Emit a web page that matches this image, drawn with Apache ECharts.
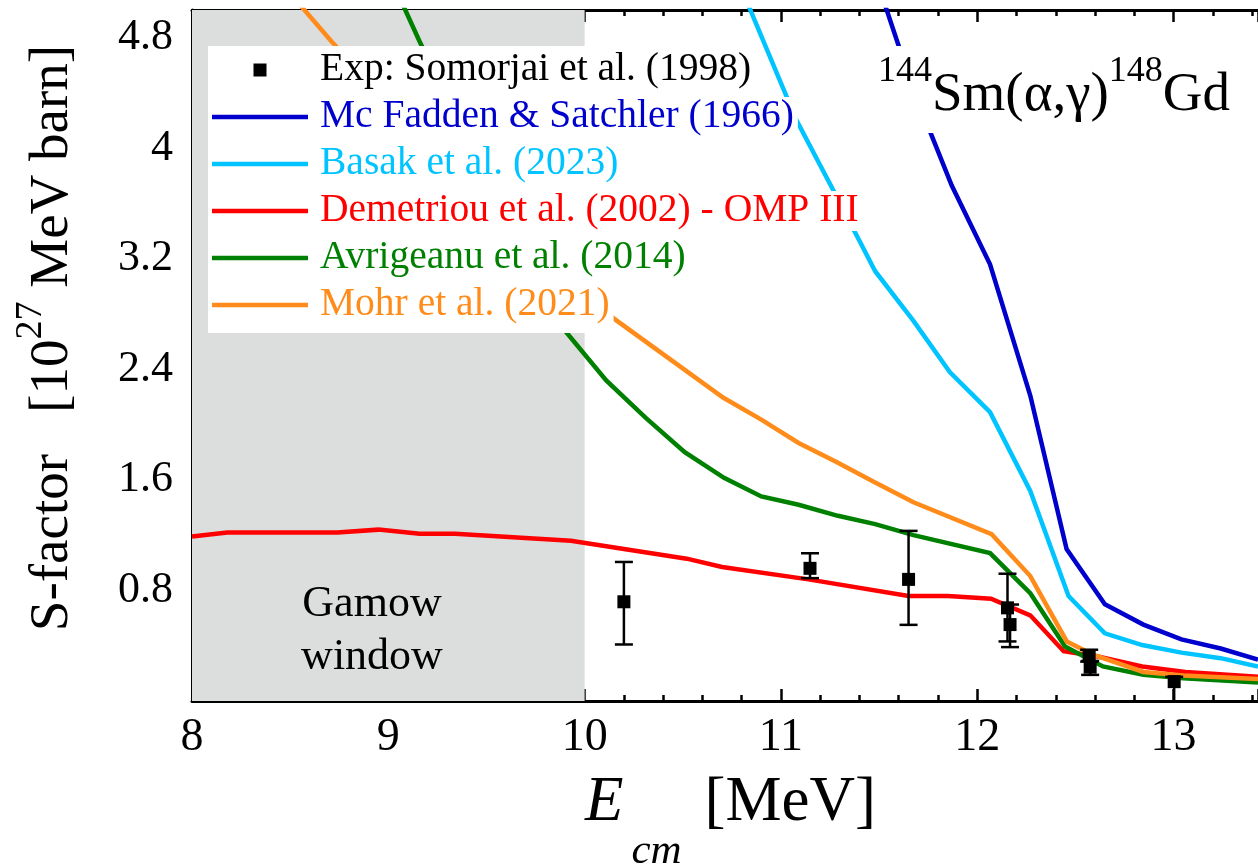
<!DOCTYPE html>
<html>
<head>
<meta charset="utf-8">
<script src="https://cdn.jsdelivr.net/npm/echarts@6/dist/echarts.min.js"></script>
<style>
  html, body { margin: 0; padding: 0; background: #fff; }
  #chart { width: 1258px; height: 864px; }
</style>
</head>
<body>
<div id="chart"></div>
<script>
// Experimental S-factors (Somorjai et al. 1998): energy, value, error-bar limits
const expE  = [10.20, 11.148, 11.65, 12.154, 12.167, 12.57, 12.575, 13.003];
const expS  = [0.718, 0.960, 0.880, 0.674, 0.553, 0.327, 0.245, 0.140];
const expLo = [0.409, 0.889, 0.551, 0.431, 0.390, 0.285, 0.189, -0.030];
const expHi = [1.006, 1.069, 1.231, 0.921, 0.698, 0.371, 0.290, 0.175];

// Model calculations, [E_cm (MeV), S (1e27 MeV barn)]
const mcFadden = [[11.48, 5.25], [11.675, 4.42], [11.87, 3.73], [12.065, 3.16], [12.27, 2.21],
  [12.455, 1.10], [12.65, 0.70], [12.846, 0.553], [13.04, 0.446], [13.24, 0.38], [13.43, 0.30]];
const basak = [[10.80, 5.15], [11.08, 4.20], [11.28, 3.66], [11.48, 3.11], [11.675, 2.75],
  [11.86, 2.38], [12.065, 2.09], [12.27, 1.52], [12.465, 0.76], [12.65, 0.49], [12.84, 0.405],
  [13.04, 0.35], [13.24, 0.31], [13.43, 0.25]];
const demetriou = [[8.0, 1.19], [8.18, 1.22], [8.74, 1.22], [8.95, 1.24], [9.16, 1.21], [9.34, 1.21],
  [9.93, 1.16], [10.52, 1.03], [10.70, 0.97], [11.14, 0.88], [11.65, 0.76], [11.85, 0.76],
  [12.07, 0.74], [12.27, 0.62], [12.44, 0.36], [12.62, 0.32], [12.84, 0.25], [13.06, 0.21], [13.43, 0.175]];
const avrigeanu = [[9.0, 5.27], [9.16, 4.77], [9.3, 4.36], [9.5, 3.80], [9.7, 3.20], [9.9, 2.68],
  [10.11, 2.32], [10.31, 2.05], [10.51, 1.80], [10.71, 1.615], [10.90, 1.48], [11.09, 1.42],
  [11.29, 1.34], [11.48, 1.28], [11.675, 1.20], [12.065, 1.07], [12.27, 0.78], [12.447, 0.395],
  [12.64, 0.25], [12.846, 0.19], [13.05, 0.165], [13.43, 0.133]];
const mohr = [[8.5, 5.12], [8.712, 4.77], [9.0, 4.33], [9.3, 3.90], [9.6, 3.50], [9.9, 3.10],
  [10.146, 2.77], [10.707, 2.194], [10.90, 2.036], [11.09, 1.867], [11.283, 1.729], [11.47, 1.588],
  [11.675, 1.438], [12.073, 1.207], [12.27, 0.904], [12.456, 0.431], [12.59, 0.335],
  [12.846, 0.21], [13.05, 0.185], [13.43, 0.16]];

// Gamow window energy range (MeV)
const gamowRange = [8, 10];

// Axis ranges and tick steps
const xRange = [8, 13.43];
const yRange = [0, 5];
const xStep = 1;
const yStep = 0.8;

const SERIF = '"Liberation Serif", "Times New Roman", serif';
const C = {
  blue: '#0000cd', cyan: '#00c4ff', red: '#ff0000', green: '#008000', orange: '#ff8c1a'
};

// legend icons: a thick line sample and a filled square
const ICON_LINE = 'path://M0,0H96V4.5H0Z';
const ICON_SQUARE = 'path://M0,0H13V13H0Z';

const chart = echarts.init(document.getElementById('chart'), null, { renderer: 'canvas' });

const axisLineStyle = { show: true, onZero: false, lineStyle: { color: '#000', width: 3 } };
const majorTick = { show: true, inside: true, length: 12, lineStyle: { color: '#000', width: 2.5 } };
const minorTickOf = n => ({ show: true, splitNumber: n, length: 6, lineStyle: { color: '#000', width: 2.5 } });

function lineSeries(name, data, color) {
  return {
    name, type: 'line', data, xAxisIndex: 0, yAxisIndex: 0,
    symbol: 'none', showSymbol: false, clip: true, z: 2,
    lineStyle: { color, width: 4.5, cap: 'butt', join: 'miter' },
    itemStyle: { color }
  };
}

const option = {
  animation: false,
  backgroundColor: '#fff',
  grid: { left: 192, right: 0, top: 10, bottom: 163, containLabel: false, outerBoundsMode: 'none' },
  xAxis: [
    {
      type: 'value', position: 'bottom', min: xRange[0], max: xRange[1], interval: xStep,
      axisLine: axisLineStyle, axisTick: majorTick, minorTick: minorTickOf(5),
      splitLine: { show: false },
      axisLabel: {
        show: true, margin: 14, color: '#000', fontSize: 46, fontFamily: SERIF,
        showMinLabel: true, showMaxLabel: true, hideOverlap: false,
        formatter: v => (Math.abs(v - Math.round(v)) < 1e-6 ? String(Math.round(v)) : '')
      }
    },
    {
      type: 'value', position: 'top', min: xRange[0], max: xRange[1], interval: xStep,
      axisLine: axisLineStyle, axisTick: majorTick, minorTick: minorTickOf(5),
      axisLabel: { show: false }, splitLine: { show: false }
    }
  ],
  yAxis: [{
    type: 'value', min: yRange[0], max: yRange[1], interval: yStep,
    axisLine: axisLineStyle, axisTick: majorTick, minorTick: minorTickOf(4),
    splitLine: { show: false },
    axisLabel: {
      show: true, margin: 19, color: '#000', fontSize: 44, fontFamily: SERIF,
      showMinLabel: true, showMaxLabel: true, hideOverlap: false,
      formatter: v => (v <= 1e-6 || v > 4.85) ? '' : String(Math.round(v * 10) / 10)
    }
  }],
  legend: {
    orient: 'vertical', left: 212, top: 50, padding: 0, itemGap: 7,
    itemWidth: 96, itemHeight: 13, z: 6, symbolKeepAspect: true,
    selectedMode: false,
    textStyle: {
      fontSize: 39.5, fontFamily: SERIF, lineHeight: 40, color: '#000',
      backgroundColor: '#fff', padding: [0, 4, 0, 7]
    },
    data: [
      { name: 'Exp: Somorjai et al. (1998)', icon: ICON_SQUARE, itemStyle: { color: '#000', opacity: 1 }, textStyle: { color: '#000' } },
      { name: 'Mc Fadden & Satchler (1966)', icon: ICON_LINE, itemStyle: { color: C.blue }, textStyle: { color: C.blue } },
      { name: 'Basak et al. (2023)', icon: ICON_LINE, itemStyle: { color: C.cyan }, textStyle: { color: C.cyan } },
      { name: 'Demetriou et al. (2002) - OMP III', icon: ICON_LINE, itemStyle: { color: C.red }, textStyle: { color: C.red } },
      { name: 'Avrigeanu et al. (2014)', icon: ICON_LINE, itemStyle: { color: C.green }, textStyle: { color: C.green } },
      { name: 'Mohr et al. (2021)', icon: ICON_LINE, itemStyle: { color: C.orange }, textStyle: { color: C.orange } }
    ]
  },
  graphic: [
    // white panel behind the legend entries
    { type: 'rect', z: 3, shape: { x: 208, y: 46, width: 404, height: 287 }, style: { fill: '#fff' }, silent: true },
    // reaction label
    {
      type: 'text', z: 3, x: 872, y: 46, silent: true,
      style: {
        text: '{sup|144}{b|Sm(α,γ)}{sup|148}{b|Gd}',
        backgroundColor: '#fff', padding: [22, 6, 10, 6],
        fill: '#000', fontFamily: SERIF,
        rich: {
          b: { fontSize: 55, lineHeight: 55, fontFamily: SERIF, fill: '#000', verticalAlign: 'bottom' },
          sup: { fontSize: 36, lineHeight: 36, fontFamily: SERIF, fill: '#000', verticalAlign: 'bottom', padding: [0, 0, 33, 0] }
        }
      }
    },
    // Gamow window caption
    {
      type: 'text', z: 3, x: 372, y: 578, silent: true,
      style: {
        text: 'Gamow\nwindow', fontSize: 44, lineHeight: 53, fontFamily: SERIF,
        fill: '#000', align: 'center', verticalAlign: 'top'
      }
    },
    // y-axis title
    {
      type: 'text', z: 3, x: 53, y: 338, rotation: Math.PI / 2, silent: true,
      style: {
        text: '{n|S-factor   [10}{s|27}{n| MeV barn]}',
        align: 'center', verticalAlign: 'middle', fill: '#000', fontFamily: SERIF,
        rich: {
          n: { fontSize: 55, lineHeight: 55, fontFamily: SERIF, fill: '#000', verticalAlign: 'bottom' },
          s: { fontSize: 38, lineHeight: 38, fontFamily: SERIF, fill: '#000', verticalAlign: 'bottom', padding: [0, 0, 30, 0] }
        }
      }
    },
    // x-axis title
    {
      type: 'text', z: 3, x: 585, y: 810, silent: true,
      style: {
        text: '{e|E}{s|cm}{n|[MeV]}',
        align: 'left', verticalAlign: 'top', fill: '#000', fontFamily: SERIF,
        rich: {
          e: { fontSize: 63, lineHeight: 63, fontStyle: 'italic', fontFamily: SERIF, fill: '#000', verticalAlign: 'bottom', padding: [0, 0, 38, 0] },
          s: { fontSize: 43, lineHeight: 43, fontStyle: 'italic', fontFamily: SERIF, fill: '#000', verticalAlign: 'bottom', padding: [0, 0, 0, 8] },
          n: { fontSize: 63, lineHeight: 63, fontFamily: SERIF, fill: '#000', verticalAlign: 'bottom', padding: [0, 0, 38, 23] }
        }
      }
    }
  ],
  series: [
    {
      // shaded Gamow window
      name: 'gamow', type: 'custom', z: 1, silent: true, clip: true,
      data: [[gamowRange[0], gamowRange[1]]],
      renderItem: (params, api) => {
        const p0 = api.coord([api.value(0), yRange[1]]);
        const p1 = api.coord([api.value(1), yRange[0]]);
        return { type: 'rect', shape: { x: p0[0], y: p0[1], width: p1[0] - p0[0], height: p1[1] - p0[1] },
                 style: { fill: '#dcdddd' } };
      }
    },
    lineSeries('Demetriou et al. (2002) - OMP III', demetriou, C.red),
    lineSeries('Avrigeanu et al. (2014)', avrigeanu, C.green),
    lineSeries('Mohr et al. (2021)', mohr, C.orange),
    lineSeries('Basak et al. (2023)', basak, C.cyan),
    lineSeries('Mc Fadden & Satchler (1966)', mcFadden, C.blue),
    {
      // error bars of the measured points
      name: 'errors', type: 'custom', z: 4, silent: true, clip: true,
      data: expE.map((e, i) => [e, expLo[i], expHi[i]]),
      renderItem: (params, api) => {
        const x = api.value(0);
        const lo = api.coord([x, api.value(1)]);
        const hi = api.coord([x, api.value(2)]);
        const w = 9;
        const st = { stroke: '#000', lineWidth: 2.5 };
        return {
          type: 'group', children: [
            { type: 'line', shape: { x1: lo[0], y1: lo[1], x2: hi[0], y2: hi[1] }, style: st },
            { type: 'line', shape: { x1: lo[0] - w, y1: lo[1], x2: lo[0] + w, y2: lo[1] }, style: st },
            { type: 'line', shape: { x1: hi[0] - w, y1: hi[1], x2: hi[0] + w, y2: hi[1] }, style: st }
          ]
        };
      }
    },
    {
      name: 'Exp: Somorjai et al. (1998)', type: 'scatter', z: 5,
      symbol: 'rect', symbolSize: 13,
      itemStyle: { color: '#000', opacity: 1 },
      data: expE.map((e, i) => [e, expS[i]])
    }
  ]
};

chart.setOption(option);
</script>
</body>
</html>
